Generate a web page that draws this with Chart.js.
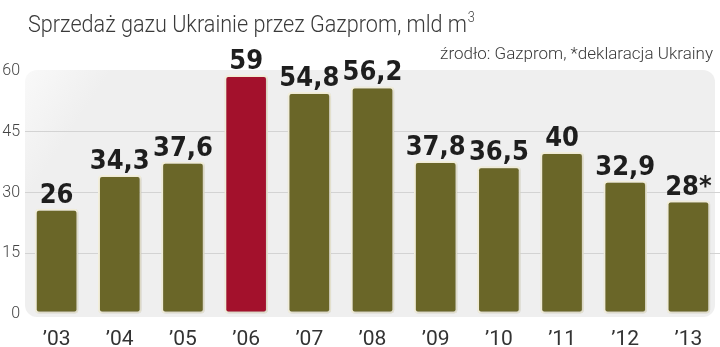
<!DOCTYPE html>
<html>
<head>
<meta charset="utf-8">
<script src="https://cdn.jsdelivr.net/npm/chart.js@4"></script>
<style>
  html, body { margin: 0; padding: 0; background: #fff; }
  #wrap { width: 720px; height: 347px; position: relative; }
</style>
</head>
<body>
<div id="wrap"><canvas id="barChart"></canvas></div>
<script>
const CHART = document.getElementById('barChart');

// data
var years = ['\u201903', '\u201904', '\u201905', '\u201906', '\u201907', '\u201908', '\u201909', '\u201910', '\u201911', '\u201912', '\u201913'];
var sales = [26, 34.3, 37.6, 59, 54.8, 56.2, 37.8, 36.5, 40, 32.9, 28];
var starred = [false, false, false, false, false, false, false, false, false, false, true];
var highlight = [false, false, false, true, false, false, false, false, false, false, false];
var yTicks = [0, 15, 30, 45, 60];

var title = 'Sprzedaż gazu Ukrainie przez Gazprom, mld m';
var source = 'źrodło: Gazprom, *deklaracja Ukrainy';

var OLIVE = '#6a6628';
var RED = '#a3112c';

const decor = {
  id: 'decor',
  beforeDraw(chart) {
    const ctx = chart.ctx, a = chart.chartArea;
    ctx.save();
    // grey rounded panel
    var x0 = a.left, y0 = a.top - 1, x1 = a.right - 5, y1 = a.bottom + 3, r = 12;
    var g = ctx.createLinearGradient(x0, y0, x0 + 60, y0 + 40);
    g.addColorStop(0, '#f9f9f9');
    g.addColorStop(1, '#efefef');
    ctx.fillStyle = g;
    ctx.beginPath();
    ctx.roundRect(x0, y0, x1 - x0, y1 - y0, r);
    ctx.fill();
    ctx.restore();
    // title, squeezed a little to match the narrow face
    ctx.save();
    ctx.fillStyle = '#3a3a3a';
    ctx.textBaseline = 'alphabetic';
    ctx.textAlign = 'left';
    ctx.translate(28, 32);
    ctx.scale(0.9, 1);
    ctx.font = '300 24px Roboto, "Open Sans", sans-serif';
    ctx.fillText(title, 0, 0);
    var w = ctx.measureText(title).width;
    ctx.font = '300 14px Roboto, "Open Sans", sans-serif';
    ctx.fillText('3', w + 1, -10);
    ctx.restore();
    // source
    ctx.save();
    ctx.font = '300 17px Roboto, "Open Sans", sans-serif';
    ctx.textAlign = 'right';
    ctx.fillStyle = '#3a3a3a';
    ctx.fillText(source, 713, 59);
    ctx.restore();
  },
  beforeDatasetsDraw(chart) {
    const ctx = chart.ctx;
    ctx.save();
    ctx.shadowColor = 'rgba(0,0,0,0.18)';
    ctx.shadowBlur = 3;
    ctx.shadowOffsetX = 1;
    ctx.shadowOffsetY = 1;
  },
  afterDatasetsDraw(chart) {
    const ctx = chart.ctx;
    ctx.restore();
    ctx.save();
    ctx.fillStyle = '#1e1e1e';
    ctx.textAlign = 'center';
    ctx.textBaseline = 'alphabetic';
    ctx.font = 'bold 27px "Liberation Sans Narrow", "DejaVu Sans Condensed", sans-serif';
    chart.getDatasetMeta(0).data.forEach(function(bar, i) {
      var txt = String(sales[i]).replace('.', ',') + (starred[i] ? '*' : '');
      ctx.fillText(txt, bar.x, bar.y - 6);
    });
    ctx.restore();
  }
};

new Chart(CHART, {
  type: 'bar',
  data: {
    labels: years,
    datasets: [{
      data: sales,
      backgroundColor: highlight.map(function(h) { return h ? RED : OLIVE; }),
      borderColor: '#f4f0dc',
      borderWidth: 2,
      borderRadius: 4,
      borderSkipped: false,
      categoryPercentage: 1,
      barPercentage: 0.69
    }]
  },
  options: {
    responsive: true,
    maintainAspectRatio: false,
    animation: false,
    layout: { padding: { top: 71, right: 0, left: 0, bottom: 0 } },
    plugins: { legend: { display: false }, tooltip: { enabled: false } },
    scales: {
      x: {
        grid: { display: false },
        border: { display: false },
        ticks: {
          color: '#333',
          padding: 5,
          font: { family: 'Roboto, "Open Sans", sans-serif', size: 21 }
        },
        afterFit: function(s) { s.height = 33; }
      },
      y: {
        min: 0,
        max: 60,
        afterBuildTicks: function(s) { s.ticks = yTicks.map(function(v) { return { value: v }; }); },
        grid: {
          drawTicks: false,
          color: function(c) { return (c.tick.value === 0 || c.tick.value === 60) ? 'rgba(0,0,0,0)' : '#d3d3d3'; },
          lineWidth: 1
        },
        border: { display: false },
        ticks: {
          color: '#444',
          padding: 5,
          font: { family: 'Roboto, "Open Sans", sans-serif', size: 16, weight: 300 }
        },
        afterFit: function(s) { s.width = 25; }
      }
    }
  },
  plugins: [decor]
});
</script>
</body>
</html>
